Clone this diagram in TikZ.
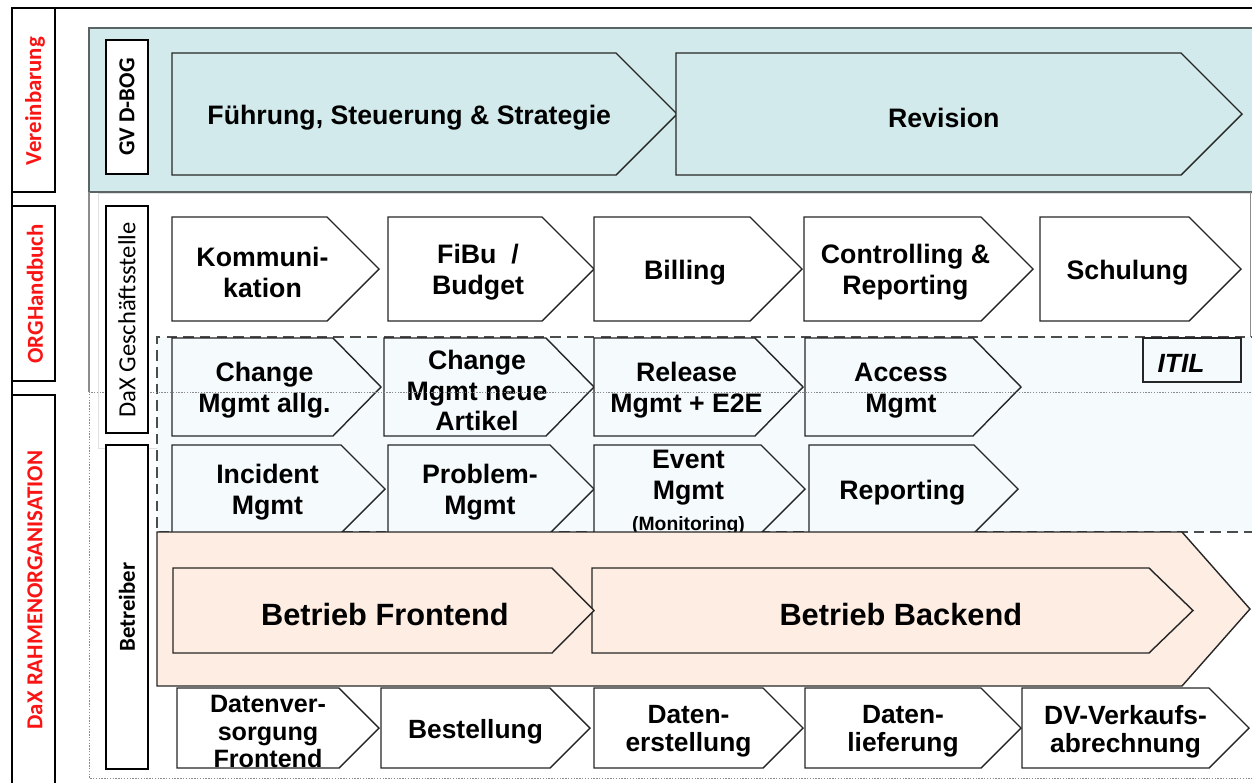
\documentclass[tikz,border=0pt]{standalone}
\usepackage{fontspec}
\setmainfont{Liberation Sans}
\newfontfamily\carlito{Carlito}

\definecolor{bandblue}{RGB}{210,234,235}
\definecolor{itilblue}{RGB}{245,250,252}
\definecolor{peach}{RGB}{253,237,227}
\definecolor{framegrey}{RGB}{90,100,100}
\definecolor{labelred}{RGB}{250,20,20}

\tikzset{
  chevline/.style={draw=black!85, line width=0.8pt, line join=miter},
  chevtext/.style={align=center, inner sep=0pt, yshift=-2pt, font=\bfseries\fontsize{15.2}{17.5}\selectfont},
  chevsmall/.style={font=\bfseries\fontsize{15}{16}\selectfont},
  chevbig/.style={font=\bfseries\fontsize{17.5}{20}\selectfont},
  sidebox/.style={draw=black, line width=0.9pt, fill=white},
  sidelabel/.style={rotate=90, inner sep=0pt, font=\carlito\bfseries\fontsize{13}{15}\selectfont},
  redlabel/.style={sidelabel, text=labelred},
  dashline/.style={draw=black!70, line width=0.7pt, dash pattern=on 6pt off 3.5pt},
  dotline/.style={draw=black!45, line width=0.5pt, dash pattern=on 0.8pt off 0.8pt},
}

% #1 node options, #2 left, #3 top, #4 tip, #5 bottom, #6 tip depth, #7 fill, #8 text
\newcommand{\chev}[8]{%
  \draw[chevline, fill=#7] (#2,#3) -- ({#4-#6},#3) -- (#4,{(#3+#5)/2}) -- ({#4-#6},#5) -- (#2,#5) -- cycle;
  \node[chevtext, #1] at ({(#2+#4)/2-#6/4},{(#3+#5)/2}) {#8};
}

\begin{document}
\begin{tikzpicture}[x=0.02cm, y=-0.02cm]
    \useasboundingbox (0,0) rectangle (1252,782);

    \begin{scope}
        \draw[line width=1.2pt] (12,790) -- (12,8) -- (1262,8);
        \draw[sidebox] (12,8) rectangle (55,192);
        \draw[sidebox] (12,206) rectangle (55,381);
        \draw[sidebox] (12,395) rectangle (55,790);
        \node[redlabel] (vereinb) at (35,101) {Vereinbarung};
        \node[redlabel] (orghb) at (35,294) {ORGHandbuch};
        \node[redlabel] (rahmen) at (35,590) {DaX RAHMENORGANISATION};
    \end{scope}

    \begin{scope}
        \draw[draw=framegrey, line width=1.2pt, fill=bandblue] (89,28) rectangle (1262,192);
        \draw[sidebox] (106,40) rectangle (148,174);
        \node[sidelabel] (gvdbog) at (127,107) {GV D-BOG};
        \chev{name=fuehrung}{172}{53}{677}{175}{61}{bandblue}{Führung, Steuerung \& Strategie}
        \chev{name=revision}{676}{53}{1242}{175}{61}{bandblue}{Revision}
    \end{scope}

    \draw[black!12] (98,193) rectangle (1262,448);
    \draw[black!45, line width=0.8pt] (89,192) -- (89,392);
    \draw[black!45] (1250,192) -- (1250,337);

    \chev{name=komm}{172}{217}{379}{321}{52}{white}{Kommuni-\\kation}
    \chev{name=fibu}{388}{217}{594}{321}{52}{white}{FiBu~~/\\Budget}
    \chev{name=billing}{594}{217}{802}{321}{52}{white}{Billing}
    \chev{name=ctrl}{804}{217}{1033}{321}{52}{white}{Controlling \&\\Reporting}
    \chev{name=schulung}{1040}{217}{1241}{321}{52}{white}{Schulung}

    \fill[itilblue] (157,337) rectangle (1262,532);
    \draw[dashline] (1262,337) -- (157,337) -- (157,532) -- (1262,532);

    \chev{name=chgallg}{172}{338}{381}{436}{48}{itilblue}{Change\\Mgmt allg.}
    \chev{name=chgneu}{384}{338}{594}{436}{48}{itilblue}{Change\\Mgmt neue\\Artikel}
    \chev{name=release}{594}{338}{803}{436}{48}{itilblue}{Release\\Mgmt + E2E}
    \chev{name=access}{805}{338}{1021}{436}{48}{itilblue}{Access\\Mgmt}
    \draw[chevline, fill=itilblue] (1143,338) rectangle (1241,382);
    \node[chevtext, font=\bfseries\itshape\fontsize{15}{17.5}\selectfont] (itil) at (1181,360) {ITIL};

    \chev{name=incident}{172}{445}{385}{533}{44}{itilblue}{Incident\\Mgmt}
    \chev{name=problem}{388}{445}{594}{533}{44}{itilblue}{Problem-\\Mgmt}
    \chev{name=event}{594}{445}{805}{533}{44}{itilblue}{Event\\Mgmt\\{\fontsize{11}{12}\selectfont(Monitoring)}}
    \chev{name=reporting}{809}{445}{1018}{533}{44}{itilblue}{Reporting}

    \begin{scope}
        \draw[chevline, fill=peach] (157,532) -- (1182,532) -- (1250,609) -- (1182,686) -- (157,686) -- cycle;
        \chev{name=bback, chevbig, xshift=11pt}{592}{568}{1193}{653}{44}{peach}{Betrieb Backend}
        \chev{name=bfront, chevbig, xshift=6.8pt}{173}{568}{594}{653}{42}{peach}{Betrieb Frontend}
    \end{scope}

    \chev{name=dvfront, font=\bfseries\fontsize{14.3}{15.6}\selectfont}{177}{688}{379}{768}{40}{white}{Datenver-\\sorgung\\Frontend}
    \chev{name=bestell, chevsmall}{381}{688}{590}{768}{40}{white}{Bestellung}
    \chev{name=daterst, chevsmall}{594}{688}{803}{768}{40}{white}{Daten-\\erstellung}
    \chev{name=datlief, chevsmall}{805}{688}{1021}{768}{40}{white}{Daten-\\lieferung}
    \chev{name=dvverk, chevsmall}{1022}{688}{1249}{768}{40}{white}{DV-Verkaufs-\\abrechnung}

    \draw[dotline] (1262,392) -- (89,392) -- (89,778) -- (1262,778);

    \draw[sidebox] (106,206) rectangle (148,433);
    \node[sidelabel, font=\carlito\fontsize{14}{16}\selectfont] (gst) at (127,320) {DaX Geschäftsstelle};
    \draw[sidebox] (106,445) rectangle (148,769);
    \node[sidelabel] (betreiber) at (127,607) {Betreiber};
\end{tikzpicture}
\end{document}
